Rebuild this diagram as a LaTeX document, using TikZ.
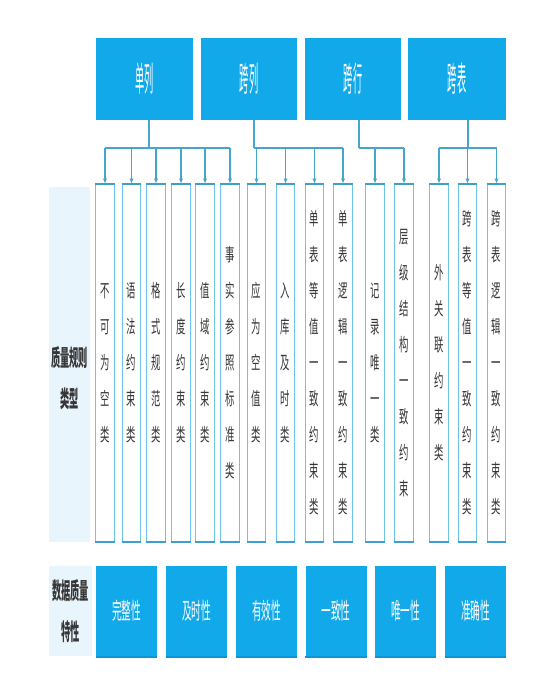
\documentclass[tikz,border=0pt]{standalone}
\usepackage{fontspec}
\setmainfont{Noto Sans CJK SC}
\newfontfamily\topfont[FakeStretch=0.27]{Noto Sans CJK SC}
\newfontfamily\colfont[FakeStretch=0.52]{Noto Sans CJK SC}
\newfontfamily\botfont[FakeStretch=0.42]{Noto Sans CJK SC}
\newfontfamily\labfont[FakeStretch=0.40]{Noto Sans CJK SC}
\usetikzlibrary{arrows.meta}
\definecolor{mainblue}{HTML}{12A9EA}
\definecolor{edgeblue}{HTML}{0E97D6}
\definecolor{lightfill}{HTML}{E9F5FC}
\definecolor{colborder}{HTML}{6CC4E8}
\definecolor{colthick}{HTML}{3E9FCC}
\definecolor{connblue}{HTML}{45A5CC}
\definecolor{darktext}{HTML}{363636}
\tikzset{
  topbox/.style={fill=mainblue, draw=none, inner sep=0pt, minimum height=82pt,
    text=white, font=\topfont\fontsize{34}{36}\selectfont},
  colbox/.style={draw=colborder, line width=0.9pt, fill=white, inner sep=0pt,
    minimum width=18.5pt, minimum height=358pt},
  coledge/.style={draw=colthick, line width=2pt},
  coltext/.style={inner sep=0pt, align=center, text=darktext,
    font=\colfont\fontsize{18}{36}\selectfont},
  labelbox/.style={fill=lightfill, draw=none, inner sep=0pt},
  labeltext/.style={inner sep=0pt, align=center, text=darktext,
    font=\labfont\bfseries\fontsize{23}{41}\selectfont},
  botbox/.style={fill=mainblue, draw=none, inner sep=0pt, minimum height=90pt,
    minimum width=61pt, text=white, font=\botfont\fontsize{23}{24}\selectfont},
  conn/.style={draw=connblue, line width=1.1pt},
  arr/.style={conn, -{Latex[length=5pt,width=4.5pt]}}
}
\begin{document}
\begin{tikzpicture}[x=1pt,y=-1pt]
\useasboundingbox (0,0) rectangle (555,693);
% top boxes
\node[topbox, minimum width=97pt] (b1) at (144.5,79) {单列};
\node[topbox, minimum width=96pt] (b2) at (249,79) {跨列};
\node[topbox, minimum width=96pt] (b3) at (353,79) {跨行};
\node[topbox, minimum width=98pt] (b4) at (457,79) {跨表};
% left label
\node[labelbox, minimum width=41pt, minimum height=355pt] (lab1) at (69.5,364.5) {};
\node[labeltext] (lab1t) at (69.5,378) {质量规则\\类型};
% columns
\foreach \i/\x/\t in {
  1/105/{不\\可\\为\\空\\类},
  2/131.5/{语\\法\\约\\束\\类},
  3/156/{格\\式\\规\\范\\类},
  4/181/{长\\度\\约\\束\\类},
  5/205/{值\\域\\约\\束\\类},
  6/230/{事\\实\\参\\照\\标\\准\\类},
  7/256.5/{应\\为\\空\\值\\类},
  8/285.5/{入\\库\\及\\时\\类},
  9/314.5/{单\\表\\等\\值\\一\\致\\约\\束\\类},
  10/343/{单\\表\\逻\\辑\\一\\致\\约\\束\\类},
  11/375/{记\\录\\唯\\一\\类},
  12/404/{层\\级\\结\\构\\一\\致\\约\\束},
  13/439/{外\\关\\联\\约\\束\\类},
  14/467.5/{跨\\表\\等\\值\\一\\致\\约\\束\\类},
  15/496.5/{跨\\表\\逻\\辑\\一\\致\\约\\束\\类}}{
  \node[colbox] (c\i) at (\x,363) {};
  \draw[coledge] (c\i.north west) -- (c\i.north east);
  \draw[coledge] (c\i.south west) -- (c\i.south east);
  \node[coltext] (c\i t) at (\x,363) {\t};
}
% connectors
\coordinate (bus) at (0,148);
\coordinate (t1) at (149,0);
\coordinate (t2) at (254,0);
\coordinate (t3) at (359,0);
\coordinate (t4) at (468,0);
\draw[conn] (t1 |- b1.south) -- (t1 |- bus);
\draw[conn] (t2 |- b2.south) -- (t2 |- bus);
\draw[conn] (t3 |- b3.south) -- (t3 |- bus);
\draw[conn] (t4 |- b4.south) -- (t4 |- bus);
\draw[conn] (c1.north |- bus) -- (c6.north |- bus);
\draw[conn] (t2 |- bus) -- (c10.north |- bus);
\draw[conn] (t3 |- bus) -- (c12.north |- bus);
\draw[conn] (c13.north |- bus) -- (c15.north |- bus);
\foreach \i in {1,...,15}{
  \draw[arr] (c\i.north |- bus) -- (c\i.north);
}
% bottom row
\node[labelbox, minimum width=43pt, minimum height=90pt] (lab2) at (70.5,611) {};
\node[labeltext] (lab2t) at (70.5,611) {数据质量\\特性};
\foreach \j/\x/\t in {1/126.5/完整性, 2/196.5/及时性, 3/266.5/有效性, 4/336/一致性, 5/405.5/唯一性, 6/475.5/准确性}{
  \node[botbox] (d\j) at (\x,611) {\t};
  \draw[draw=edgeblue, line width=1.5pt] ([yshift=-0.75pt]d\j.south west) -- ([yshift=-0.75pt]d\j.south east);
}
\end{tikzpicture}
\end{document}
